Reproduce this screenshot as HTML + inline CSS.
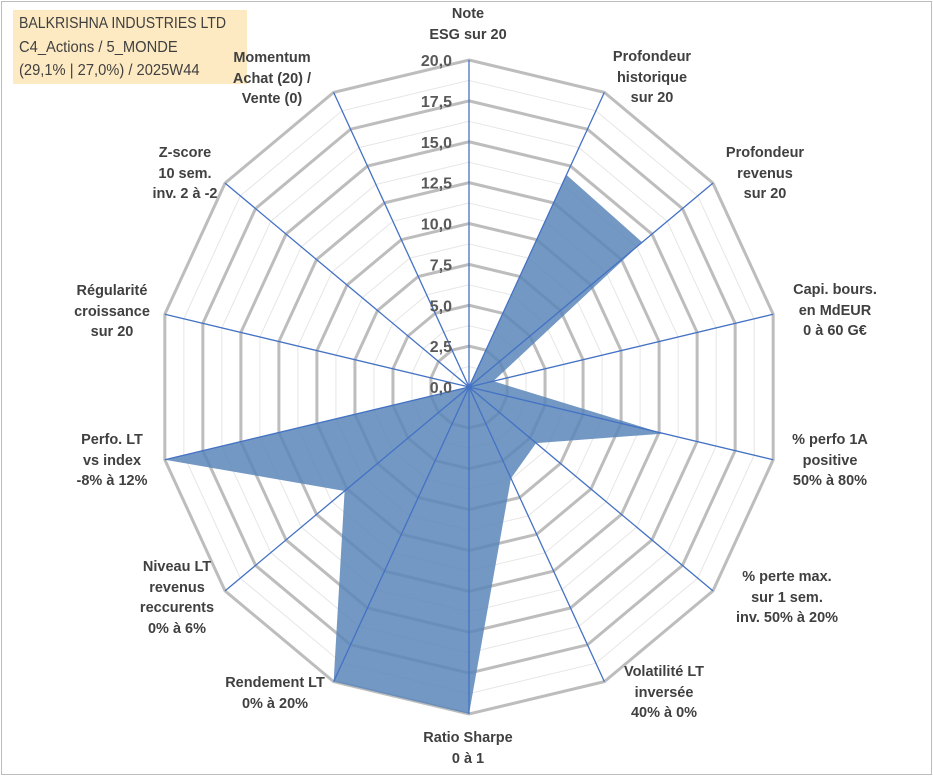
<!DOCTYPE html>
<html><head><meta charset="utf-8">
<style>
body{margin:0;background:#fff;}
#wrap{position:relative;width:933px;height:776px;overflow:hidden;font-family:"Liberation Sans",Arial,sans-serif;}
.frame{position:absolute;left:1px;top:1px;width:929px;height:772px;border:1px solid #bcbcbc;}
.lbl{position:absolute;transform:translateX(-50%);text-align:center;font-weight:bold;font-size:14.5px;line-height:20.5px;color:#404040;white-space:nowrap;}
.title{position:absolute;left:13px;top:10px;width:234px;height:74px;background:#fdeac2;color:#404040;font-size:16px;line-height:23.5px;padding:2px 0 0 6px;box-sizing:border-box;white-space:nowrap;}
.title span{display:inline-block;transform-origin:0 50%;}
</style></head>
<body>
<div id="wrap">
<div class="frame"></div>
<div class="title"><span style="transform:scaleX(0.88)">BALKRISHNA INDUSTRIES LTD</span><br><span style="transform:scaleX(0.92)">C4_Actions / 5_MONDE</span><br><span style="transform:scaleX(0.92)">(29,1% | 27,0%) / 2025W44</span></div>
<svg id="chart" width="933" height="776" style="position:absolute;left:0;top:0"></svg>
<div class="lbl" style="left:468px;top:4px">Note<br>ESG sur 20</div>
<div class="lbl" style="left:652px;top:47px">Profondeur<br>historique<br>sur 20</div>
<div class="lbl" style="left:765px;top:143px">Profondeur<br>revenus<br>sur 20</div>
<div class="lbl" style="left:835px;top:280px">Capi. bours.<br>en MdEUR<br>0 à 60 G€</div>
<div class="lbl" style="left:830px;top:430px">% perfo 1A<br>positive<br>50% à 80%</div>
<div class="lbl" style="left:787px;top:567px">% perte max.<br>sur 1 sem.<br>inv. 50% à 20%</div>
<div class="lbl" style="left:664px;top:662px">Volatilité LT<br>inversée<br>40% à 0%</div>
<div class="lbl" style="left:468px;top:728px">Ratio Sharpe<br>0 à 1</div>
<div class="lbl" style="left:275px;top:673px">Rendement LT<br>0% à 20%</div>
<div class="lbl" style="left:177px;top:557px">Niveau LT<br>revenus<br>reccurents<br>0% à 6%</div>
<div class="lbl" style="left:112px;top:430px">Perfo. LT<br>vs index<br>-8% à 12%</div>
<div class="lbl" style="left:112px;top:281px">Régularité<br>croissance<br>sur 20</div>
<div class="lbl" style="left:185px;top:143px">Z-score<br>10 sem.<br>inv. 2 à -2</div>
<div class="lbl" style="left:272px;top:48px">Momentum<br>Achat (20) /<br>Vente (0)</div>
</div>
<script>
const categories=["Note ESG","Profondeur historique","Profondeur revenus","Capi","% perfo 1A","% perte max","Volatilité LT","Ratio Sharpe","Rendement LT","Niveau LT revenus","Perfo LT","Régularité","Z-score","Momentum"];
const values=[0,14.4,14.2,1.6,12.8,5.5,6.2,20,20,10.2,20,0,0,0];
const tickValues=[0,2.5,5,7.5,10,12.5,15,17.5,20];
const tickLabels=["0,0","2,5","5,0","7,5","10,0","12,5","15,0","17,5","20,0"];
const maxV=20;
const cx=469,cy=387,rx=312,ry=327;
const svg=document.getElementById('chart');
const NS='http://www.w3.org/2000/svg';
const n=categories.length;
function pt(i,v){const a=2*Math.PI*i/n;return [cx+Math.sin(a)*rx*v/maxV, cy-Math.cos(a)*ry*v/maxV];}
function mk(tag,attrs){const e=document.createElementNS(NS,tag);for(const k in attrs)e.setAttribute(k,attrs[k]);svg.appendChild(e);return e;}
for(let v=1.25;v<=maxV;v+=2.5){
  const p=[];for(let i=0;i<n;i++)p.push(pt(i,v).join(','));
  const e=mk('polygon',{points:p.join(' '),fill:'none',stroke:'#e6e6e6','stroke-width':1});
  
  
}
tickValues.forEach(v=>{
  if(v===0)return;
  const p=[];for(let i=0;i<n;i++)p.push(pt(i,v).join(','));
  const e=mk('polygon',{points:p.join(' '),fill:'none',stroke:'#bdbdbd','stroke-width':3});
  
  
});
{
  const p=values.map((v,i)=>pt(i,v).join(','));
  const e=mk('polygon',{points:p.join(' '),fill:'#5b86b8','fill-opacity':0.85,stroke:'none'});
  
  
}
for(let i=0;i<n;i++){
  const [x,y]=pt(i,maxV);
  const e=mk('line',{x1:cx,y1:cy,x2:x,y2:y,stroke:'#4472c4','stroke-width':1.3});
  
  
}
tickValues.forEach((v,k)=>{
  const y=cy-ry*v/maxV;
  const t=mk('text',{x:cx-17,y:y+6,'text-anchor':'end','font-family':'Liberation Sans, Arial, sans-serif','font-size':16,'font-weight':'bold',fill:'#595959'});
  t.textContent=tickLabels[k];
  
  
});
</script>
</body></html>
